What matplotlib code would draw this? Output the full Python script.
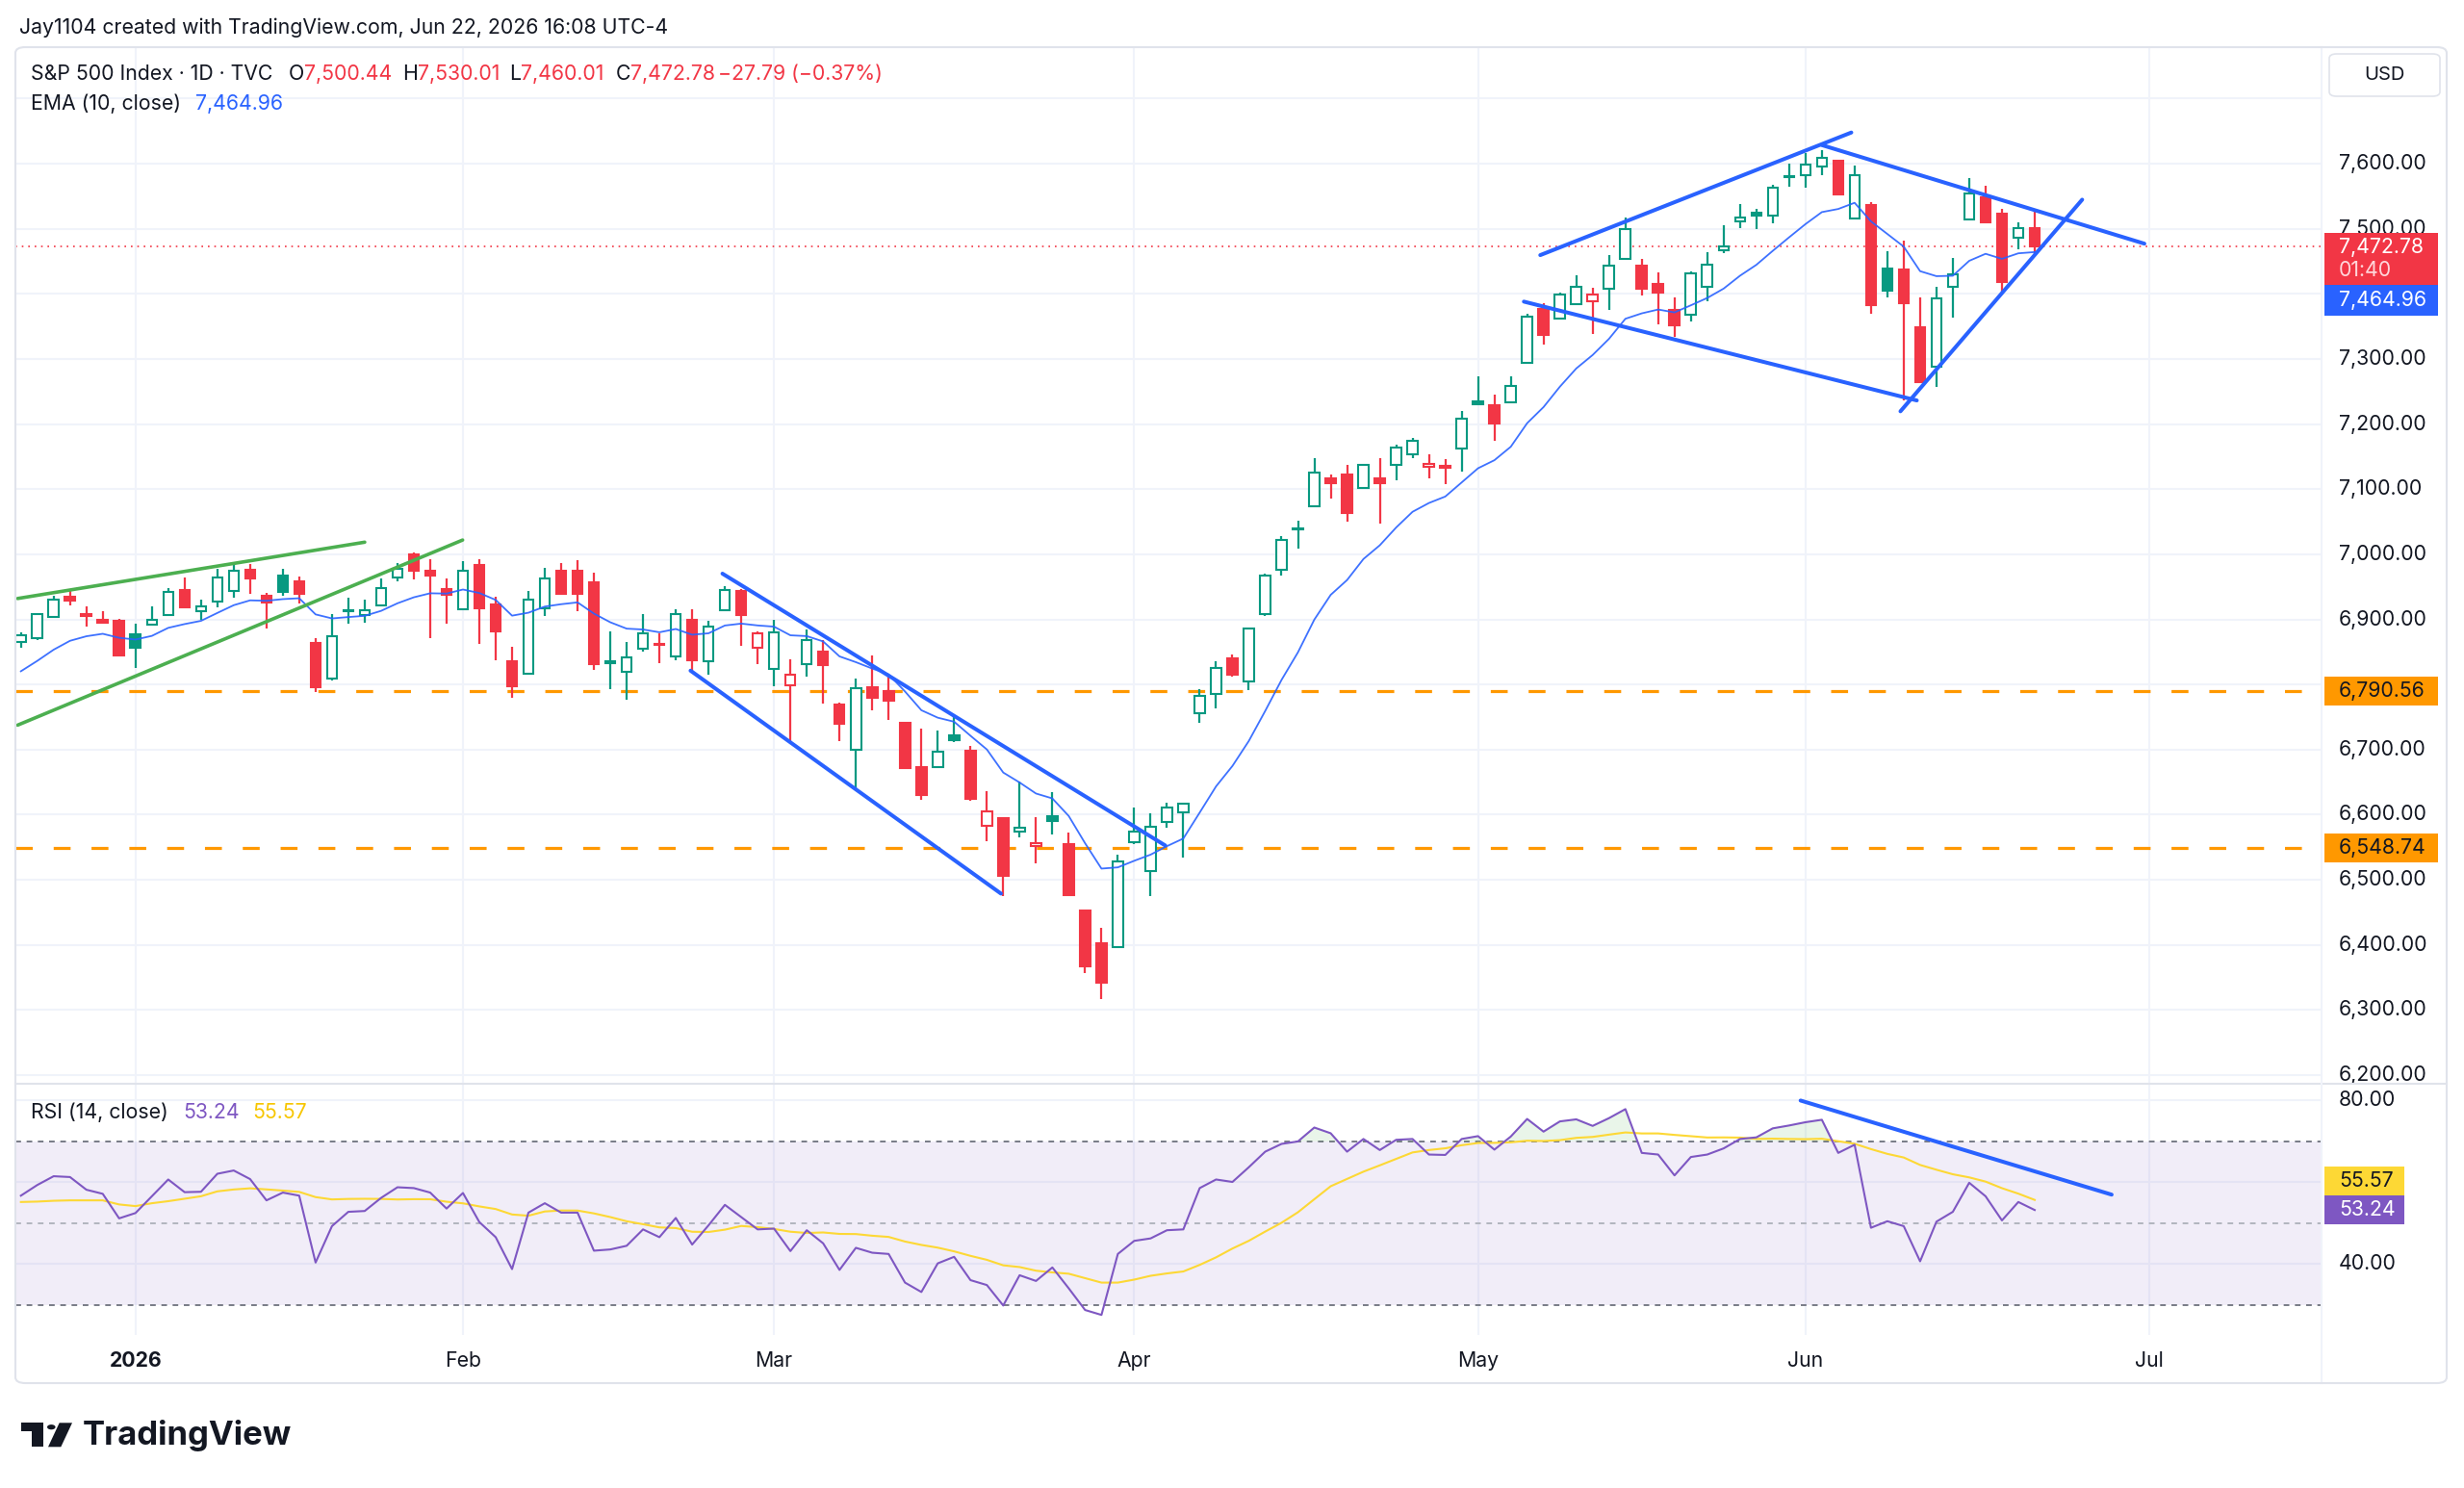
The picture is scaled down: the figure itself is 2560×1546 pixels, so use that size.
import numpy as np
import matplotlib
matplotlib.use("Agg")
import matplotlib.pyplot as plt
from matplotlib.patches import Rectangle, FancyBboxPatch, Polygon, Circle
from matplotlib.transforms import blended_transform_factory

plt.rcParams['font.family'] = ['Inter', 'DejaVu Sans']

# S&P 500 daily bars, Dec 22 2025 -> Jun 22 2026 (bar index 0..123)
opens = [6865, 6871.7, 6904, 6935, 6906.5, 6899, 6898, 6877, 6892, 6906.6,
         6944.5, 6913, 6927.8, 6943.5, 6976.4, 6936, 6968, 6959, 6864, 6809.3,
         6912, 6906, 6921, 6964, 7000, 6975.4, 6946, 6915.5, 6983.8, 6923,
         6836.4, 6816.7, 6917.4, 6974, 6975, 6956.8, 6833, 6819.7, 6855, 6862,
         6843, 6899, 6836.4, 6914, 6943.5, 6856, 6824.6, 6799.5, 6831.5, 6851,
         6769, 6700.2, 6796, 6789.7, 6741, 6672.8, 6672.8, 6722.2, 6698.5, 6583.7,
         6594.6, 6574.7, 6551.5, 6598, 6554.9, 6452.5, 6402.5, 6396.5, 6557.4, 6512.9,
         6588.6, 6603, 6755.4, 6785, 6839.5, 6804.9, 6908.7, 6976.4, 7038, 7073.8,
         7116.3, 7122.2, 7102.5, 7117.3, 7137, 7152.9, 7134.6, 7135, 7162.8, 7234.9,
         7228.5, 7233.4, 7294.2, 7376.8, 7362, 7384.2, 7389.1, 7408.4, 7453.3, 7443.5,
         7414.8, 7374.8, 7367.9, 7410.9, 7467.7, 7512, 7525, 7519.5, 7579.5, 7582.7,
         7595, 7604, 7516, 7536.8, 7439.5, 7438, 7349, 7287.9, 7410.9, 7515,
         7548.1, 7523.5, 7486.4, 7500.44]
highs = [6880.6, 6910, 6935.6, 6944.5, 6920, 6913, 6900.7, 6894, 6920, 6947.4,
         6964, 6929.7, 6978, 6985, 6984.8, 6941, 6978, 6965.6, 6871, 6908,
         6933.7, 6931, 6963, 6987, 7002.5, 6992.6, 6963, 6990, 6992.6, 6934.6,
         6857.5, 6943.5, 6978.9, 6986, 6991.6, 6972, 6881, 6866, 6907.6, 6878.6,
         6915.5, 6915.5, 6898.3, 6950.9, 6946, 6882, 6899, 6839.3, 6884.5, 6868.8,
         6772.5, 6809.8, 6844.2, 6811.8, 6742, 6733, 6729.6, 6752.8, 6706, 6636.6,
         6594.6, 6651.5, 6596, 6634.2, 6573.3, 6452.5, 6426.2, 6539.1, 6610.4, 6602,
         6618.3, 6618.3, 6793.6, 6836, 6846.4, 6887.5, 6970, 7027.3, 7052, 7148,
         7122.2, 7137, 7138, 7148, 7167.7, 7179, 7152.9, 7146, 7220, 7273,
         7244.8, 7274, 7369.4, 7385.2, 7401.5, 7428.1, 7408.9, 7459.3, 7517, 7454.3,
         7433, 7394.6, 7434, 7464.2, 7506, 7538.3, 7530, 7568, 7600, 7615.8,
         7620.7, 7604, 7597.5, 7540.7, 7465.7, 7482.5, 7395.1, 7411.4, 7455.8, 7577.8,
         7565.4, 7530.9, 7510.1, 7530.01]
lows = [6856, 6868.8, 6904, 6921.9, 6888.5, 6893, 6843, 6825.6, 6892, 6905,
        6919, 6899, 6918, 6933.7, 6938.6, 6885.5, 6937, 6924, 6788.7, 6806,
        6893.4, 6895, 6921, 6958, 6962, 6870.8, 6893.4, 6914, 6862, 6837.8,
        6780.3, 6816.7, 6905.2, 6937.6, 6913, 6823, 6793.6, 6776.4, 6850, 6833,
        6836.9, 6820.6, 6815.7, 6914, 6859, 6831.5, 6797, 6711.5, 6811.8, 6770.5,
        6712.5, 6638.3, 6760.7, 6746, 6671, 6623.5, 6672.8, 6711.4, 6621.8, 6558.9,
        6474.7, 6564.9, 6525.2, 6569.8, 6474.7, 6356.9, 6317.3, 6396.5, 6554.9, 6474.7,
        6579.7, 6534.2, 6741.6, 6762.9, 6811.4, 6791, 6904.8, 6967.5, 7008.6, 7073.8,
        7085.2, 7050.6, 7102.5, 7047.1, 7113.3, 7148.4, 7116.3, 7108.4, 7127, 7230,
        7174.1, 7233.4, 7294.2, 7322.4, 7362, 7384.2, 7338.3, 7375.3, 7453.3, 7397.5,
        7353, 7333.3, 7357, 7388.6, 7462.7, 7501.2, 7500.2, 7508.6, 7564.4, 7563,
        7582.7, 7550.6, 7516, 7368.9, 7395.1, 7237, 7265.2, 7256.8, 7364, 7515,
        7508.6, 7402.5, 7469.1, 7460.01]
closes = [6876, 6908, 6930.7, 6928.7, 6905.5, 6895, 6844, 6857, 6900, 6942.5,
          6919, 6920, 6964.6, 6975.4, 6962.7, 6925.8, 6942.5, 6938.6, 6796, 6873.7,
          6913, 6914, 6947.4, 6977, 6975.4, 6968, 6937.6, 6974, 6916.5, 6882,
          6797, 6930.7, 6962.2, 6939.6, 6938.8, 6831.5, 6835.5, 6841.8, 6878.6, 6861,
          6908, 6836.9, 6888.5, 6944.5, 6906.6, 6878.1, 6880.6, 6815.7, 6868.8, 6829.5,
          6739.6, 6794.6, 6780.3, 6775, 6671.4, 6630.9, 6697.5, 6715, 6624.3, 6605.4,
          6505.4, 6580.7, 6556.4, 6591.1, 6476.7, 6367.8, 6342, 6527.7, 6574.7, 6581.2,
          6610.4, 6616.3, 6782.7, 6824.8, 6815.8, 6886, 6966.6, 7022.4, 7039.5, 7125.7,
          7108.9, 7062.9, 7138, 7108.9, 7164.2, 7173.6, 7139.5, 7133.6, 7207.7, 7230,
          7200.3, 7258.2, 7364.4, 7337.2, 7398.5, 7411.4, 7399, 7443, 7500.2, 7407.4,
          7402.5, 7351.6, 7431.6, 7444.4, 7472.6, 7517, 7520, 7562.5, 7580.5, 7598.5,
          7608.4, 7552, 7582.7, 7382.7, 7405, 7385.2, 7265.2, 7392.6, 7430.6, 7554,
          7510.1, 7418.8, 7500.57, 7472.78]

rsi = [56.75, 59.35, 61.5, 61.3, 58.2, 57.2, 51.2, 52.5, 56.6, 60.7,
       57.6, 57.7, 62.1, 62.9, 60.8, 55.6, 57.5, 56.75, 40.4, 49.3,
       52.8, 53.0, 56.2, 58.8, 58.6, 57.5, 53.6, 57.4, 50.3, 46.6,
       38.8, 52.6, 54.9, 52.6, 52.6, 43.3, 43.6, 44.5, 48.5, 46.6,
       51.3, 44.8, 49.5, 54.5, 51.5, 48.5, 48.7, 43.2, 48.3, 45.1,
       38.6, 44.0, 42.8, 42.5, 35.5, 33.2, 40.2, 41.8, 36.1, 34.9,
       29.9, 37.3, 35.9, 39.2, 34.1, 28.8, 27.6, 42.5, 45.7, 46.3,
       48.3, 48.5, 58.6, 60.7, 60.1, 63.7, 67.5, 69.4, 70.0, 73.4,
       72.0, 67.5, 70.6, 67.9, 70.4, 70.6, 66.8, 66.7, 70.6, 71.3,
       68.0, 71.2, 75.5, 72.4, 74.9, 75.4, 73.8, 75.7, 77.9, 67.2,
       66.8, 61.7, 66.2, 66.8, 68.3, 70.6, 71.0, 73.2, 73.9, 74.7,
       75.3, 67.2, 69.2, 48.9, 50.5, 49.3, 40.7, 50.4, 52.8, 59.9,
       56.6, 50.7, 55.2, 53.24]
rsi_ma_head = [55.2, 55.3, 55.5, 55.6, 55.6, 55.6, 54.6, 54.2, 54.9, 55.4, 56.0, 56.6, 57.8]

ema_seed = 6808  # EMA value of the bar before the first visible one

month_idx = [7, 27, 46, 68, 89, 109, 130]
month_labels = ['2026', 'Feb', 'Mar', 'Apr', 'May', 'Jun', 'Jul']
price_ticks = list(range(6200, 7700, 100))
rsi_ticks = [80, 40]
support_levels = [6790.56, 6548.74]
last_close = 7472.78
last_ema = 7464.96
last_rsi = 53.24
last_rsi_ma = 55.57

# drawings (bar index, value)
green_lines = [((-0.2, 6932.1), (21.0, 7018.6)),
               ((-0.2, 6737.6), (26.98, 7021.9))]
blue_lines = [((42.85, 6970.3), (69.9, 6552.7)),
              ((40.9, 6821.3), (59.86, 6478.9)),
              ((92.8, 7459.5), (111.8, 7647.8)),
              ((91.8, 7388.1), (115.8, 7236.3)),
              ((110.0, 7628.5), (129.7, 7477.1)),
              ((114.8, 7219.6), (125.9, 7544.7))]
rsi_trend = ((108.7, 80.0), (127.7, 57.0))

GREEN = '#089981'
RED = '#F23645'
BLUE = '#2962FF'
ORANGE = '#FF9800'
PURPLE = '#7E57C2'
YELLOW = '#FDD835'
GRID = '#F0F3FA'
TXT = '#131722'

W, H = 2560, 1546
fig = plt.figure(figsize=(W / 100, H / 100), dpi=100)
fig.patch.set_facecolor('white')

def fx(px):
    return px / W

def fy(py):
    return 1 - py / H

left, right = 16, 2412
ax = fig.add_axes([fx(left), fy(1126), fx(right - left), (1126 - 49) / H])
axr = fig.add_axes([fx(left), fy(1387), fx(right - left), (1387 - 1126) / H], sharex=ax)

xs = np.arange(len(closes))
ax.set_xlim(-0.335, 140.52)
ax.set_ylim(6186.8, 7778.9)
axr.set_ylim(22.7, 84.1)

for a in (ax, axr):
    a.set_facecolor('white')
    for s in a.spines.values():
        s.set_visible(False)
    a.tick_params(left=False, right=False, bottom=False, labelleft=False, labelbottom=False)
    a.set_yticks([])
    a.set_xticks([])
    for m in month_idx:
        a.axvline(m, color=GRID, lw=1.5, zorder=0)

for p in price_ticks + [7700]:
    ax.axhline(p, color=GRID, lw=1.5, zorder=0)
for r in [80, 60, 40]:
    axr.axhline(r, color=GRID, lw=1.5, zorder=0)

# candles (hollow style: colour vs previous close, fill vs open)
for i in xs:
    o, h, l, c = opens[i], highs[i], lows[i], closes[i]
    up = i == 0 or c >= closes[i - 1]
    col = GREEN if up else RED
    ax.vlines(i, l, h, color=col, lw=1.6, zorder=3)
    bot, top = min(o, c), max(o, c)
    hgt = max(top - bot, 2.0)
    face = 'white' if c > o else col
    ax.add_patch(Rectangle((i - 0.31, bot), 0.62, hgt, facecolor=face,
                           edgecolor=col, lw=1.5, zorder=4))

# EMA 10
k = 2 / 11
ema = []
e = ema_seed
for c in closes:
    e = e + k * (c - e)
    ema.append(e)
ax.plot(xs, ema, color=BLUE, lw=1.3, zorder=5, alpha=0.9)

# levels and last price
for lv in support_levels:
    ax.axhline(lv, color=ORANGE, lw=2.3, ls=(0, (5.5, 6.8)), zorder=2)
ax.axhline(last_close, color=RED, lw=1.2, ls=(0, (1, 3)), zorder=2)

for (x0, y0), (x1, y1) in green_lines:
    ax.plot([x0, x1], [y0, y1], color='#4CAF50', lw=2.6, solid_capstyle='round', zorder=6)
for (x0, y0), (x1, y1) in blue_lines:
    ax.plot([x0, x1], [y0, y1], color=BLUE, lw=2.9, solid_capstyle='round', zorder=6)

# RSI pane
axr.axhspan(30, 70, color=PURPLE, alpha=0.1, lw=0, zorder=0)
for r, c in [(70, '#787B86'), (50, '#B2B5BE'), (30, '#787B86')]:
    axr.axhline(r, color=c, lw=1.4, ls=(0, (3, 3)), zorder=1)
rsi_arr = np.array(rsi)
axr.fill_between(xs, 70, rsi_arr, where=rsi_arr > 70, interpolate=True,
                 color='#4CAF50', alpha=0.12, lw=0, zorder=1)
rsi_ma = list(rsi_ma_head)
for i in range(len(rsi_ma_head), len(rsi)):
    rsi_ma.append(np.mean(rsi[i - 13:i + 1]))
axr.plot(xs, rsi_ma, color=YELLOW, lw=1.5, zorder=3)
axr.plot(xs, rsi, color=PURPLE, lw=1.5, zorder=4)
(x0, y0), (x1, y1) = rsi_trend
axr.plot([x0, x1], [y0, y1], color=BLUE, lw=2.9, solid_capstyle='round', zorder=6)

# right axis labels and price boxes
tp = blended_transform_factory(ax.transAxes, ax.transData)
tr = blended_transform_factory(axr.transAxes, axr.transData)
lab_x = (2430 - left) / (right - left)
box_x = (2415 - left) / (right - left)
box_w = (2533 - 2415) / (right - left)
fs_axis = 15.3
ppx = 0.6765  # px per point of price
rpx = 4.25    # px per RSI unit

price_boxes = [(7453.7, 54, RED, [(12, f"{last_close:,.2f}", 'white'), (-12, "01:40", '#FFD6DA')]),
               (7390.1, 32, BLUE, [(0, f"{last_ema:,.2f}", 'white')])]
price_boxes += [(lv, 30, ORANGE, [(0, f"{lv:,.2f}", TXT)]) for lv in support_levels]

for p in price_ticks:
    if any(abs(p - yc) < hp / 2 / ppx for yc, hp, _, _ in price_boxes):
        continue  # hidden behind a price box
    ax.text(lab_x, p, f"{p:,.2f}", transform=tp, ha='left', va='center',
            fontsize=fs_axis, color=TXT, clip_on=False, zorder=10)
for r in rsi_ticks:
    axr.text(lab_x, r, f"{r:.2f}", transform=tr, ha='left', va='center',
             fontsize=fs_axis, color=TXT, clip_on=False, zorder=10)

def price_box(yc, hpx, color, lines, a=ax, trans=tp, scale=ppx, w=box_w):
    hh = hpx / scale
    a.add_patch(Rectangle((box_x, yc - hh / 2), w, hh, transform=trans,
                          facecolor=color, edgecolor='none', clip_on=False, zorder=20))
    for dy, s, c in lines:
        a.text(lab_x, yc + dy / scale, s, transform=trans, ha='left', va='center',
               fontsize=fs_axis, color=c, clip_on=False, zorder=21)

for yc, hp, col, lines in price_boxes:
    price_box(yc, hp, col, lines)
rbox_w = (2498 - 2415) / (right - left)
price_box(60.3, 30, '#FDD835', [(0, f"{last_rsi_ma:.2f}", TXT)], a=axr, trans=tr, scale=rpx, w=rbox_w)
price_box(53.3, 30, PURPLE, [(0, f"{last_rsi:.2f}", 'white')], a=axr, trans=tr, scale=rpx, w=rbox_w)

# x-axis labels
tx = blended_transform_factory(axr.transData, axr.transAxes)
for m, lab in zip(month_idx, month_labels):
    axr.text(m, (1387 - 1414) / 261, lab, transform=tx, ha='center', va='center',
             fontsize=fs_axis, color=TXT, fontweight='bold' if lab == '2026' else 'normal',
             clip_on=False)

# frame, separators
fig.add_artist(FancyBboxPatch((fx(16), fy(1437)), fx(2526), (1437 - 49) / H,
                              boxstyle='round,pad=0,rounding_size=0.004',
                              transform=fig.transFigure, facecolor='none',
                              edgecolor='#E0E3EB', lw=1.5, zorder=30))
fig.add_artist(plt.Line2D([fx(16), fx(2542)], [fy(1126), fy(1126)], transform=fig.transFigure,
                          color='#E0E3EB', lw=1.5))
fig.add_artist(plt.Line2D([fx(2412), fx(2412)], [fy(49), fy(1437)], transform=fig.transFigure,
                          color='#F0F3FA', lw=1.5))
fig.add_artist(FancyBboxPatch((fx(2420), fy(100)), fx(115), 44 / H,
                              boxstyle='round,pad=0,rounding_size=0.003',
                              transform=fig.transFigure, facecolor='white',
                              edgecolor='#E0E3EB', lw=1.2, zorder=30))
fig.text(fx(2477), fy(78), 'USD', ha='center', va='center', fontsize=14.5, color=TXT, zorder=31)

# legends
renderer = fig.canvas.get_renderer()
fs_leg = 15.3
def text_run(x, y, parts, size=fs_leg):
    xx = fx(x)
    for s, c in parts:
        t = fig.text(xx, fy(y), s, color=c, fontsize=size, ha='left', va='center')
        xx += t.get_window_extent(renderer=renderer).width / W

fig.text(fx(20), fy(29), 'Jay1104 created with TradingView.com, Jun 22, 2026 16:08 UTC-4',
         fontsize=fs_leg, color=TXT, ha='left', va='center')
text_run(32, 77, [('S&P 500 Index · 1D · TVC', TXT)])
text_run(300, 77, [('O', TXT), (f"{opens[-1]:,.2f}", RED)])
text_run(418, 77, [('H', TXT), (f"{highs[-1]:,.2f}", RED)])
text_run(529, 77, [('L', TXT), (f"{lows[-1]:,.2f}", RED)])
text_run(640, 77, [('C', TXT), (f"{closes[-1]:,.2f}", RED)])
text_run(746, 77, [('\u221227.79 (\u22120.37%)', RED)])
text_run(32, 108, [('EMA (10, close)', TXT)])
text_run(203, 108, [(f"{last_ema:,.2f}", BLUE)])
text_run(32, 1156, [('RSI (14, close)', TXT)])
text_run(190, 1156, [(f"{last_rsi:.2f}", PURPLE)])
text_run(262, 1156, [(f"{last_rsi_ma:.2f}", '#F7C600')])

# TradingView logo
logo = '#131722'
fig.add_artist(Polygon([(fx(21.7), fy(1478.3)), (fx(45), fy(1478.3)), (fx(45), fy(1503.3)),
                        (fx(33.3), fy(1503.3)), (fx(33.3), fy(1486.7)), (fx(21.7), fy(1486.7))],
                       closed=True, transform=fig.transFigure, facecolor=logo, edgecolor='none'))
fig.add_artist(Circle((fx(53.3), fy(1482.7)), 4.3 / W, transform=fig.transFigure,
                      facecolor=logo, edgecolor='none'))
fig.add_artist(Polygon([(fx(61.7), fy(1478.3)), (fx(75), fy(1478.3)), (fx(63.3), fy(1503.3)),
                        (fx(50), fy(1503.3))], closed=True, transform=fig.transFigure,
                       facecolor=logo, edgecolor='none'))
fig.text(fx(86), fy(1491), 'TradingView', fontsize=25, fontweight='bold', color=logo,
         ha='left', va='center')

fig.savefig('out.png', dpi=100, facecolor='white')
